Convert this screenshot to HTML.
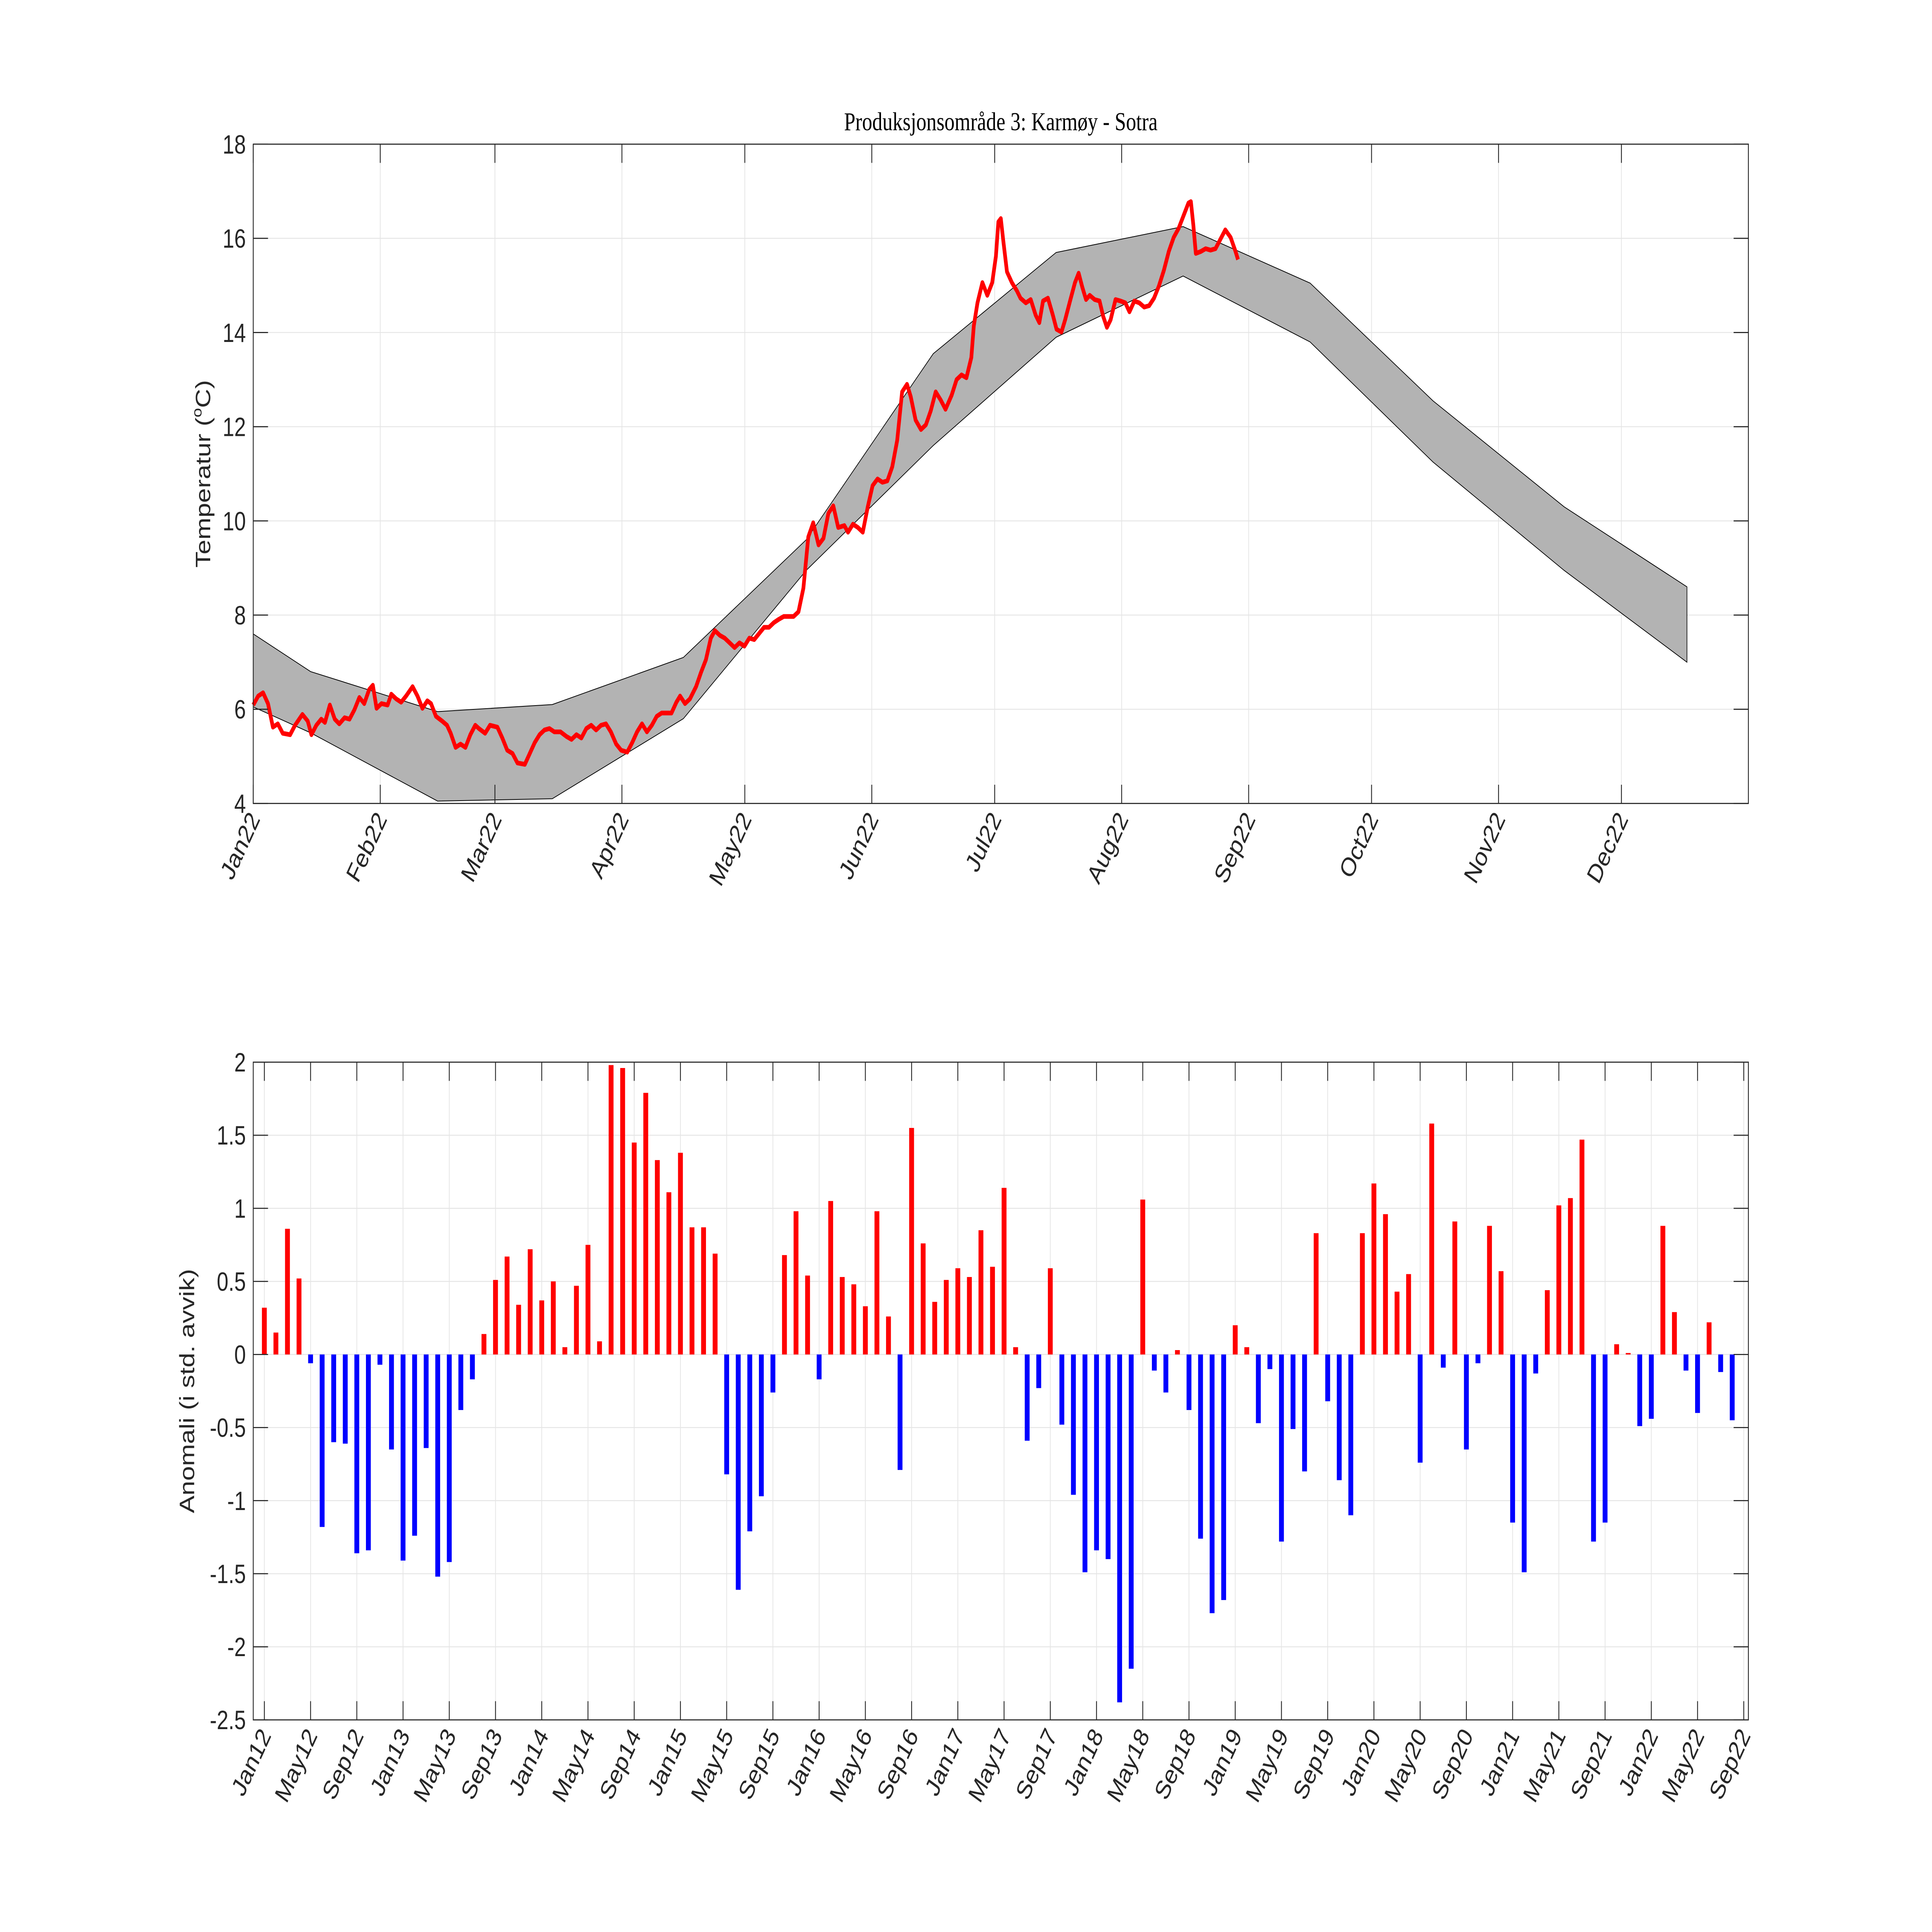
<!DOCTYPE html>
<html><head><meta charset="utf-8">
<style>html,body{margin:0;padding:0;background:#fff;overflow:hidden;width:100vw;height:100vh}svg{display:block;width:100vw;height:100vh}</style></head>
<body>
<svg id="fig" xmlns="http://www.w3.org/2000/svg" viewBox="-1.8 0.5 1570 1239.6" preserveAspectRatio="none" font-family="Liberation Sans, sans-serif">
<rect x="-10" y="-10" width="1600" height="1260" fill="#fff"/>
<g id="topchart"></g>
<g id="botchart"></g>
</svg>
<script>
// ---- Top chart data ----
const monthLabels = ["Jan22","Feb22","Mar22","Apr22","May22","Jun22","Jul22","Aug22","Sep22","Oct22","Nov22","Dec22"];
const monthStartDays = [0,31,59,90,120,151,181,212,243,273,304,334];
const tempTicks = [4,6,8,10,12,14,16,18];
const bandDays = [0,14,45,73,105,135,166,196,227,258,288,320,350];
const bandUpper = [7.6,6.8,5.95,6.1,7.1,9.6,13.55,15.7,16.25,15.05,12.55,10.3,8.6];
const bandLower = [6.05,5.5,4.05,4.1,5.8,8.95,11.6,13.9,15.2,13.8,11.25,8.95,7.0];
const obsDays = [0,1.2,2.4,3.6,4.8,6,7.2,9,10.2,12,13.3,14.2,15.4,16.6,17.5,18.7,19.9,21,22.3,23.5,24.7,25.9,27.1,28.3,29.2,30.1,31.3,32.8,33.7,34.9,36.1,37.3,38.9,40.1,41.3,42.5,43.4,44.6,46.1,47.3,48.2,49.4,50.6,51.8,53,54.2,55.1,56.6,57.8,59.6,60.8,62,63.3,64.5,66.3,67.5,68.7,69.9,71.1,72.3,73.5,75,76.5,77.7,78.9,80.1,81.3,82.5,83.7,84.9,86.1,87.3,88.6,89.8,91.3,92.5,93.7,94.9,96.1,97.3,98.5,99.7,100.9,102.1,103.3,104.2,105.4,106.6,108.1,109.3,110.5,111.7,112.7,113.9,115.1,116.3,117.5,118.7,119.9,121.1,122.3,123.5,124.7,125.9,127.1,128.3,129.5,130.7,131.9,133.1,134.3,135.5,136.7,138,139.2,140.4,141.6,142.8,144.3,145.2,146.4,147.6,148.8,150,151.2,152.4,153.6,154.8,156,157.2,158.4,159.6,160.5,161.7,163,164.2,165.4,166.6,167.8,169,170.5,171.7,172.9,174.1,175.3,175.9,176.8,178,179.2,180.4,181.3,181.9,182.5,183.1,184,185.2,186.4,187.3,188.6,189.8,191,191.9,192.8,194,195.2,196.1,197.3,198.2,199.4,200.6,201.5,202.4,203.3,204.2,205.4,206.6,207.5,208.4,209.3,210.5,211.7,212.9,213.9,215.1,216.3,217.5,218.7,219.9,221.1,222.3,223.5,224.7,225.9,227.1,228.3,228.9,229.5,230.1,231.3,232.5,233.7,234.9,236.1,237.3,238.6,239.8,240.4];
const obsTemps = [6.09,6.28,6.35,6.12,5.62,5.69,5.49,5.46,5.66,5.89,5.75,5.46,5.66,5.79,5.72,6.09,5.79,5.69,5.82,5.79,5.99,6.25,6.12,6.42,6.51,6.02,6.12,6.09,6.32,6.22,6.15,6.28,6.48,6.28,6.02,6.18,6.12,5.85,5.75,5.66,5.49,5.19,5.26,5.19,5.46,5.66,5.59,5.49,5.66,5.62,5.39,5.13,5.06,4.86,4.83,5.06,5.29,5.46,5.56,5.59,5.52,5.52,5.42,5.36,5.46,5.39,5.59,5.66,5.56,5.66,5.69,5.52,5.26,5.13,5.09,5.29,5.52,5.69,5.52,5.66,5.85,5.92,5.92,5.92,6.15,6.28,6.12,6.22,6.48,6.78,7.05,7.51,7.67,7.57,7.51,7.41,7.31,7.41,7.34,7.51,7.48,7.61,7.74,7.74,7.84,7.91,7.97,7.97,7.97,8.07,8.57,9.66,9.96,9.49,9.63,10.16,10.32,9.86,9.9,9.76,9.93,9.86,9.76,10.29,10.75,10.89,10.82,10.85,11.15,11.71,12.74,12.9,12.64,12.14,11.94,12.04,12.34,12.74,12.57,12.37,12.67,13.0,13.1,13.04,13.47,14.14,14.63,15.06,14.79,15.06,15.62,16.35,16.42,15.95,15.29,15.06,14.89,14.73,14.63,14.7,14.37,14.21,14.67,14.73,14.37,14.07,14.01,14.27,14.67,15.06,15.26,14.96,14.7,14.79,14.7,14.67,14.34,14.11,14.27,14.7,14.67,14.63,14.44,14.67,14.63,14.54,14.57,14.73,14.99,15.32,15.72,16.02,16.21,16.48,16.75,16.78,16.28,15.68,15.72,15.78,15.75,15.78,15.98,16.18,16.02,15.72,15.55];
// ---- Bottom chart data ----
const anomTickLabels = ["Jan12","May12","Sep12","Jan13","May13","Sep13","Jan14","May14","Sep14","Jan15","May15","Sep15","Jan16","May16","Sep16","Jan17","May17","Sep17","Jan18","May18","Sep18","Jan19","May19","Sep19","Jan20","May20","Sep20","Jan21","May21","Sep21","Jan22","May22","Sep22"];
const anomYTicks = [-2.5,-2,-1.5,-1,-0.5,0,0.5,1,1.5,2];
const anomYLabels = ["-2.5","-2","-1.5","-1","-0.5","0","0.5","1","1.5","2"];
const anomValues = [0.32,0.15,0.86,0.52,-0.06,-1.18,-0.60,-0.61,-1.36,-1.34,-0.07,-0.65,-1.41,-1.24,-0.64,-1.52,-1.42,-0.38,-0.17,0.14,0.51,0.67,0.34,0.72,0.37,0.50,0.05,0.47,0.75,0.09,1.98,1.96,1.45,1.79,1.33,1.11,1.38,0.87,0.87,0.69,-0.82,-1.61,-1.21,-0.97,-0.26,0.68,0.98,0.54,-0.17,1.05,0.53,0.48,0.33,0.98,0.26,-0.79,1.55,0.76,0.36,0.51,0.59,0.53,0.85,0.60,1.14,0.05,-0.59,-0.23,0.59,-0.48,-0.96,-1.49,-1.34,-1.40,-2.38,-2.15,1.06,-0.11,-0.26,0.03,-0.38,-1.26,-1.77,-1.68,0.20,0.05,-0.47,-0.10,-1.28,-0.51,-0.80,0.83,-0.32,-0.86,-1.10,0.83,1.17,0.96,0.43,0.55,-0.74,1.58,-0.09,0.91,-0.65,-0.06,0.88,0.57,-1.15,-1.49,-0.13,0.44,1.02,1.07,1.47,-1.28,-1.15,0.07,0.01,-0.49,-0.44,0.88,0.29,-0.11,-0.40,0.22,-0.12,-0.45];

const NS = "http://www.w3.org/2000/svg";
function mk(parent, tag, attrs, text) {
  const e = document.createElementNS(NS, tag);
  for (const k in attrs) e.setAttribute(k, attrs[k]);
  if (text !== undefined) e.textContent = text;
  parent.appendChild(e);
  return e;
}

// ===== TOP =====
const T = {x0:204, x1:1419, y0:93, y1:516, dmin:0, dmax:365, tmin:4, tmax:18};
const tx = d => T.x0 + (d - T.dmin) / (T.dmax - T.dmin) * (T.x1 - T.x0);
const ty = v => T.y1 - (v - T.tmin) / (T.tmax - T.tmin) * (T.y1 - T.y0);
const topG = document.getElementById('topchart');
const tg = mk(topG, 'g', {});


monthStartDays.forEach(d => mk(tg, 'line', {x1:tx(d), x2:tx(d), y1:T.y0, y2:T.y1, stroke:'#e5e5e5', 'stroke-width':0.6}));
tempTicks.forEach(v => mk(tg, 'line', {x1:T.x0, x2:T.x1, y1:ty(v), y2:ty(v), stroke:'#e5e5e5', 'stroke-width':0.6}));
let bp = bandDays.map((d,i) => tx(d)+','+ty(bandUpper[i]));
for (let i = bandDays.length-1; i >= 0; i--) bp.push(tx(bandDays[i])+','+ty(bandLower[i]));
const band = mk(topG, 'polygon', {points:bp.join(' '), fill:'#b3b3b3', stroke:'#000', 'stroke-width':0.5});


const line = mk(topG, 'polyline', {points:obsDays.map((d,i)=>tx(d)+','+ty(obsTemps[i])).join(' '), fill:'none', stroke:'#ff0000', 'stroke-width':3, 'stroke-linejoin':'round'});


const tbox = mk(topG, 'rect', {x:T.x0, y:T.y0, width:T.x1-T.x0, height:T.y1-T.y0, fill:'none', stroke:'#262626', 'stroke-width':0.7});


tempTicks.forEach(v => {
  mk(topG, 'line', {x1:T.x0, x2:T.x0+12, y1:ty(v), y2:ty(v), stroke:'#262626', 'stroke-width':0.7});
  mk(topG, 'line', {x1:T.x1-12, x2:T.x1, y1:ty(v), y2:ty(v), stroke:'#262626', 'stroke-width':0.7});
  const t = mk(topG, 'text', {x:T.x0-6, y:ty(v)+6, 'text-anchor':'end', 'font-size':17, fill:'#262626'}, String(v));
  
  
});
monthStartDays.forEach((d,i) => {
  mk(topG, 'line', {x1:tx(d), x2:tx(d), y1:T.y1, y2:T.y1-12, stroke:'#262626', 'stroke-width':0.7});
  mk(topG, 'line', {x1:tx(d), x2:tx(d), y1:T.y0, y2:T.y0+12, stroke:'#262626', 'stroke-width':0.7});
  const t = mk(topG, 'text', {x:0, y:0, 'text-anchor':'end', 'font-size':17, fill:'#262626', transform:`translate(${tx(d)+6},${T.y1+10}) rotate(-60)`}, monthLabels[i]);
  
  
});
const title = mk(topG, 'text', {x:(T.x0+T.x1)/2, y:84, 'text-anchor':'middle', 'font-size':16.5, 'font-family':'Liberation Serif, serif', fill:'#000'}, 'Produksjonsområde 3: Karmøy - Sotra');


const yl = mk(topG, 'text', {x:0, y:0, 'text-anchor':'middle', 'font-size':17, fill:'#262626', transform:`translate(169,${(T.y0+T.y1)/2}) rotate(-90)`});


mk(yl, 'tspan', {}, 'Temperatur (');
mk(yl, 'tspan', {dy:-7, 'font-size':11}, 'o');
mk(yl, 'tspan', {dy:7}, 'C)');

// ===== BOTTOM =====
const B = {x0:204, x1:1419, y0:682, y1:1104, mmin:-0.96, mmax:128.4, vmin:-2.5, vmax:2};
const bx = m => B.x0 + (m - B.mmin) / (B.mmax - B.mmin) * (B.x1 - B.x0);
const by = v => B.y1 - (v - B.vmin) / (B.vmax - B.vmin) * (B.y1 - B.y0);
const botG = document.getElementById('botchart');
const bg = mk(botG, 'g', {});


anomTickLabels.forEach((l,i) => mk(bg, 'line', {x1:bx(i*4), x2:bx(i*4), y1:B.y0, y2:B.y1, stroke:'#e5e5e5', 'stroke-width':0.6}));
anomYTicks.forEach(v => mk(bg, 'line', {x1:B.x0, x2:B.x1, y1:by(v), y2:by(v), stroke:'#e5e5e5', 'stroke-width':0.6}));
const bars = mk(botG, 'g', {});


const bw = 0.42 * (bx(1) - bx(0));
anomValues.forEach((v,i) => {
  const y = Math.min(by(v), by(0)), h = Math.abs(by(v) - by(0));
  const r = mk(bars, 'rect', {x:bx(i)-bw/2, y:y, width:bw, height:h, fill: v >= 0 ? '#ff0000' : '#0000ff'});
  
  
});
const bbox = mk(botG, 'rect', {x:B.x0, y:B.y0, width:B.x1-B.x0, height:B.y1-B.y0, fill:'none', stroke:'#262626', 'stroke-width':0.7});


anomYTicks.forEach((v,i) => {
  mk(botG, 'line', {x1:B.x0, x2:B.x0+12, y1:by(v), y2:by(v), stroke:'#262626', 'stroke-width':0.7});
  mk(botG, 'line', {x1:B.x1-12, x2:B.x1, y1:by(v), y2:by(v), stroke:'#262626', 'stroke-width':0.7});
  const t = mk(botG, 'text', {x:B.x0-6, y:by(v)+6, 'text-anchor':'end', 'font-size':17, fill:'#262626'}, anomYLabels[i]);
  
  
});
anomTickLabels.forEach((l,i) => {
  const x = bx(i*4);
  mk(botG, 'line', {x1:x, x2:x, y1:B.y1, y2:B.y1-12, stroke:'#262626', 'stroke-width':0.7});
  mk(botG, 'line', {x1:x, x2:x, y1:B.y0, y2:B.y0+12, stroke:'#262626', 'stroke-width':0.7});
  const t = mk(botG, 'text', {x:0, y:0, 'text-anchor':'end', 'font-size':17, fill:'#262626', transform:`translate(${x+6},${B.y1+10}) rotate(-60)`}, l);
  
  
});
const yl2 = mk(botG, 'text', {x:0, y:0, 'text-anchor':'middle', 'font-size':17, fill:'#262626', transform:`translate(156,${(B.y0+B.y1)/2}) rotate(-90)`}, 'Anomali (i std. avvik)');


</script>
</body></html>
